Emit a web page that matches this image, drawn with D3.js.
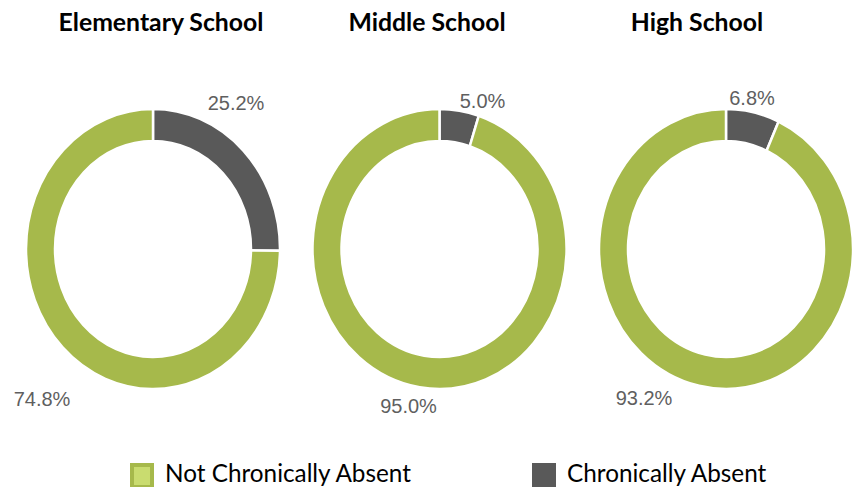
<!DOCTYPE html>
<html><head><meta charset="utf-8">
<script src="https://cdn.jsdelivr.net/npm/d3@7"></script>
<style>html,body{margin:0;padding:0;background:#fff}svg{display:block}</style>
</head><body>
<svg id="chart" width="852" height="487"></svg>
<script>
// ---- data ----
const schools = ["Elementary School", "Middle School", "High School"];
const categories = ["Chronically Absent", "Not Chronically Absent"];
const chronicallyAbsent = [25.2, 5.0, 6.8];
const notChronicallyAbsent = [74.8, 95.0, 93.2];
const legendLabels = ["Not Chronically Absent", "Chronically Absent"];

// ---- layout / style ----
const W = 852, H = 487;
const colors = {"Chronically Absent": "#595959", "Not Chronically Absent": "#a6b94b"};
const cy = 249, rOuter = 127, rInner = 98, yStretch = 140 / 127;
const titleCenters = [161, 427, 697];
// label anchors (text centre x, baseline y) relative to donut centre: [small slice, large slice]
const labelOffsets = [
  [[83, -139], [-111, 157]],
  [[43, -141], [-31, 164]],
  [[26, -144], [-82, 156]]
];

const svg = d3.select("#chart");
const x = d3.scalePoint().domain(schools).range([153, 726]);
const color = d3.scaleOrdinal().domain(categories).range(categories.map(c => colors[c]));

const pie = d3.pie().sort(null).value(d => d.value);
const arc = d3.arc().innerRadius(rInner).outerRadius(rOuter);

schools.forEach((s, i) => {
  const data = [
    {cat: categories[0], value: chronicallyAbsent[i]},
    {cat: categories[1], value: notChronicallyAbsent[i]}
  ];
  const cx = x(s);
  const g = svg.append("g").attr("transform", `translate(${cx},${cy}) scale(1,${yStretch})`);
  g.selectAll("path").data(pie(data)).join("path")
    .attr("d", arc)
    .attr("fill", d => color(d.data.cat))
    .attr("stroke", "#fff")
    .attr("stroke-width", 2.5)
    .attr("vector-effect", "non-scaling-stroke");

  // title
  svg.append("text")
    .attr("x", titleCenters[i]).attr("y", 31)
    .attr("text-anchor", "middle")
    .attr("font-family", "Lato, 'Open Sans', sans-serif")
    .attr("font-weight", "bold")
    .attr("font-size", 22)
    .attr("class", "title")
    .attr("fill", "#000")
    .text(s);

  // value labels
  data.forEach((d, j) => {
    const off = labelOffsets[i][j];
    svg.append("text")
      .attr("x", cx + off[0]).attr("y", cy + off[1])
      .attr("text-anchor", "middle")
      .attr("font-family", "'Liberation Sans', Arial, sans-serif")
      .attr("font-size", 20)
      .attr("fill", "#5f5f5f")
      .text(d3.format(".1f")(d.value) + "%");
  });
});

// fit title size to reference width of first title
(function(){
  const titles = svg.selectAll("text.title");
  const w = titles.nodes()[0].getComputedTextLength();
  const fs = 22 * 205 / w;
  titles.attr("font-size", fs);
})();

// legend
const legendX = [130, 532];
legendLabels.forEach((lab, i) => {
  const lg = svg.append("g").attr("transform", `translate(${legendX[i]},463)`);
  lg.append("rect").attr("x", 0).attr("y", 0).attr("width", 24).attr("height", 26).attr("fill", color(lab));
  if (lab === "Not Chronically Absent") {
    lg.append("rect").attr("x", 4).attr("y", 4).attr("width", 16).attr("height", 18).attr("fill", "#c9dc6f");
  }
  lg.append("text")
    .attr("class", "legtext")
    .attr("x", 35).attr("y", 19)
    .attr("font-family", "Lato, 'Open Sans', sans-serif")
    .attr("font-size", 22)
    .attr("fill", "#000")
    .text(lab);
});
(function(){
  const t = svg.selectAll("text.legtext");
  const w = t.nodes()[0].getComputedTextLength();
  t.attr("font-size", 22 * 246 / w);
})();
</script>
</body></html>
